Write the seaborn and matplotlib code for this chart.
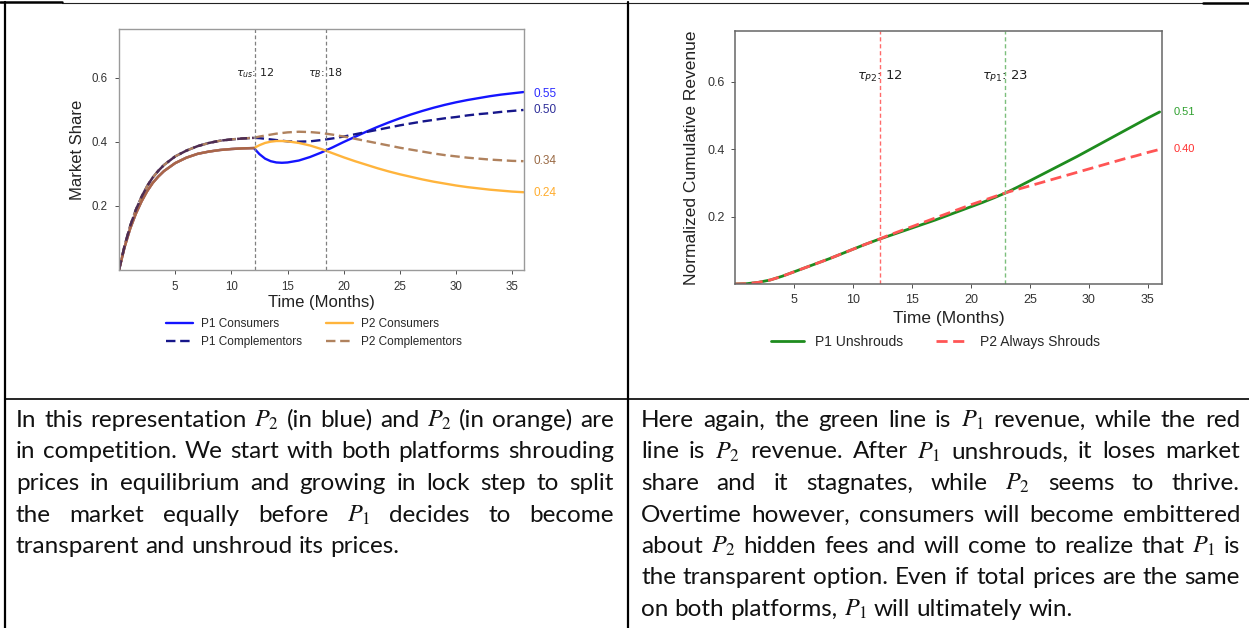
import matplotlib
matplotlib.use("Agg")
import numpy as np
import pandas as pd
import matplotlib.pyplot as plt
import seaborn as sns
from matplotlib.lines import Line2D
from matplotlib.transforms import IdentityTransform

W, H = 1249, 628

# ---------------- left chart: market share ----------------
months_pre = [0, 0.5, 1, 1.5, 2, 2.5, 3, 3.5, 4, 5, 6, 7, 8, 9, 10, 11, 12]
consumers_pre = [0, 0.072, 0.13, 0.176, 0.214, 0.246, 0.272, 0.292, 0.309, 0.334, 0.351, 0.363, 0.370, 0.375, 0.378, 0.380, 0.381]
complementors_pre = [0, 0.076, 0.138, 0.188, 0.228, 0.262, 0.289, 0.310, 0.328, 0.355, 0.373, 0.387, 0.397, 0.404, 0.408, 0.411, 0.413]

months_post = [12.5, 13, 13.5, 14, 14.5, 15, 16, 17, 18, 19, 20, 21, 22, 23, 24,
               25, 26, 27, 28, 29, 30, 31, 32, 33, 34, 35, 36]
p1_consumers_post = [0.362, 0.348, 0.340, 0.336, 0.335, 0.336, 0.342, 0.353, 0.367, 0.383, 0.400, 0.416, 0.432, 0.447,
                     0.461, 0.474, 0.486, 0.497, 0.507, 0.516, 0.524, 0.531, 0.537, 0.543, 0.548, 0.552, 0.556]
p2_consumers_post = [0.390, 0.397, 0.401, 0.403, 0.403, 0.402, 0.397, 0.389, 0.378, 0.365, 0.352, 0.340, 0.329, 0.318,
                     0.308, 0.299, 0.291, 0.283, 0.276, 0.270, 0.264, 0.259, 0.255, 0.251, 0.248, 0.245, 0.243]
p1_complementors_post = [0.412, 0.410, 0.408, 0.406, 0.404, 0.402, 0.401, 0.402, 0.406, 0.411, 0.417, 0.424, 0.431, 0.438,
                         0.445, 0.452, 0.458, 0.464, 0.469, 0.474, 0.478, 0.483, 0.487, 0.490, 0.494, 0.497, 0.500]
p2_complementors_post = [0.417, 0.420, 0.423, 0.426, 0.428, 0.430, 0.432, 0.431, 0.428, 0.423, 0.417, 0.410, 0.403, 0.396,
                         0.389, 0.382, 0.376, 0.370, 0.364, 0.359, 0.355, 0.351, 0.348, 0.345, 0.343, 0.341, 0.340]
left_series = ["P1 Consumers", "P1 Complementors", "P2 Consumers", "P2 Complementors"]
left_final_labels = [0.55, 0.50, 0.24, 0.34]
left_taus = [12.1, 18.4]
left_tau_labels = [r"$\tau_{us}$: 12", r"$\tau_{B}$: 18"]

# ---------------- right chart: cumulative revenue ----------------
months_r = list(range(0, 37))
p1_unshrouds = [0, 0.001, 0.005, 0.012, 0.023, 0.036, 0.049, 0.062, 0.075, 0.089, 0.103, 0.117, 0.130,
                0.142, 0.154, 0.166, 0.178, 0.190, 0.203, 0.216, 0.229, 0.242, 0.256, 0.271, 0.288,
                0.306, 0.324, 0.342, 0.360, 0.378, 0.397, 0.416, 0.435, 0.454, 0.473, 0.492, 0.510]
p2_always_shrouds = [0, 0.001, 0.005, 0.012, 0.023, 0.036, 0.049, 0.062, 0.075, 0.089, 0.103, 0.117, 0.130,
                     0.144, 0.157, 0.170, 0.183, 0.196, 0.209, 0.222, 0.235, 0.247, 0.259, 0.271, 0.281,
                     0.291, 0.301, 0.311, 0.321, 0.331, 0.341, 0.351, 0.361, 0.371, 0.380, 0.390, 0.399]
right_series = ["P1 Unshrouds", "P2 Always Shrouds"]
right_final_labels = [0.51, 0.40]
right_taus = [12.3, 22.9]
right_tau_labels = [r"$\tau_{P2}$: 12", r"$\tau_{P1}$: 23"]

xticks = [5, 10, 15, 20, 25, 30, 35]
yticks = [0.2, 0.4, 0.6]

left_text = [
    "In this representation $P_2$ (in blue) and $P_2$ (in orange) are",
    "in competition. We start with both platforms shrouding",
    "prices in equilibrium and growing in lock step to split",
    "the market equally before $P_1$ decides to become",
    "transparent and unshroud its prices.",
]
right_text = [
    "Here again, the green line is $P_1$ revenue, while the red",
    "line is $P_2$ revenue. After $P_1$ unshrouds, it loses market",
    "share and it stagnates, while $P_2$ seems to thrive.",
    "Overtime however, consumers will become embittered",
    "about $P_2$ hidden fees and will come to realize that $P_1$ is",
    "the transparent option. Even if total prices are the same",
    "on both platforms, $P_1$ will ultimately win.",
]

# ---------------- style ----------------
sns.set_theme(style="white")
plt.rcParams["font.family"] = ["Liberation Sans", "DejaVu Sans"]
plt.rcParams["mathtext.fontset"] = "dejavusans"

fig = plt.figure(figsize=(W / 100, H / 100), dpi=100)
fig.patch.set_facecolor("white")


def px_axes(l, t, r, b):
    return fig.add_axes([l / W, 1 - b / H, (r - l) / W, (b - t) / H])


# ================= LEFT CHART =================
ax1 = px_axes(119, 29, 523.5, 270)
c_p1, c_p1c, c_p2, c_p2c = "#1414ff", "#16168a", "#ffb43c", "#b0825e"
full_t = months_pre + months_post
p1c_full = consumers_pre + p1_consumers_post
p2c_full = consumers_pre + p2_consumers_post
p1k_full = complementors_pre + p1_complementors_post
p2k_full = complementors_pre + p2_complementors_post

df_left = pd.DataFrame({
    "month": full_t * 4,
    "share": p1c_full + p1k_full + p2c_full + p2k_full,
    "series": sum([[s] * len(full_t) for s in left_series], []),
})
styles_left = {
    "P1 Consumers": (c_p1, "-"),
    "P1 Complementors": (c_p1c, (0, (4, 2))),
    "P2 Consumers": (c_p2, "-"),
    "P2 Complementors": (c_p2c, (0, (4, 2))),
}
for s in ["P1 Consumers", "P1 Complementors", "P2 Consumers", "P2 Complementors"]:
    col, ls = styles_left[s]
    sub = df_left[df_left.series == s]
    sns.lineplot(data=sub, x="month", y="share", ax=ax1, color=col, linestyle=ls,
                 linewidth=1.7, label=s, legend=False)
# shared pre-shock segments (both platforms overlap)
sns.lineplot(x=months_pre, y=consumers_pre, ax=ax1, color="#a8654a", linewidth=1.8, legend=False)
sns.lineplot(x=months_pre, y=complementors_pre, ax=ax1, color="#4e2c52", linewidth=1.8,
             linestyle=(0, (4, 2)), legend=False)

for tx, tl in zip(left_taus, left_tau_labels):
    ax1.axvline(tx, color="#808080", linestyle=(0, (3, 2)), linewidth=0.9)
    ax1.text(tx, 0.615, tl, ha="center", va="center", fontsize=8, color="#222222",
             family="DejaVu Sans")

lab_cols = ["#2b2bff", "#2e2e99", "#ffad2e", "#9a6a45"]
for v, col in zip(left_final_labels, lab_cols):
    ax1.annotate(f"{v:.2f}", xy=(36, v), xytext=(7.5, 0), textcoords="offset points",
                 va="center", ha="left", fontsize=8.5, color=col)

ax1.set_xlim(0, 36)
ax1.set_ylim(0, 0.753)
ax1.set_xticks(xticks)
ax1.set_yticks(yticks)
ax1.set_xticklabels([str(x) for x in xticks])
ax1.set_yticklabels([f"{y:.1f}" for y in yticks])
ax1.tick_params(axis="both", labelsize=8.3, colors="#333333", length=3, width=0.6,
                direction="out", pad=5, left=True, bottom=True)
for sp in ax1.spines.values():
    sp.set_color("#9a9a9a")
    sp.set_linewidth(1.0)
ax1.set_xlabel("Time (Months)", fontsize=12, color="#222222")
ax1.set_ylabel("Market Share", fontsize=12, color="#222222")
ax1.xaxis.set_label_coords(0.5, -0.105)
ax1.yaxis.set_label_coords(-0.085, 0.5)

h, l = ax1.get_legend_handles_labels()
order = [l.index(s) for s in left_series]
ax1.legend([h[i] for i in order], [l[i] for i in order], ncol=2, frameon=False,
           loc="upper left", bbox_to_anchor=(166 / W, 1 - 318 / H), bbox_transform=fig.transFigure,
           fontsize=8.5, handlelength=2.3, handletextpad=0.7, columnspacing=2.0,
           labelspacing=0.5, borderpad=0, borderaxespad=0)

# ================= RIGHT CHART =================
ax2 = px_axes(735, 31, 1162, 284)
df_right = pd.DataFrame({
    "month": months_r * 2,
    "revenue": p1_unshrouds + p2_always_shrouds,
    "series": sum([[s] * len(months_r) for s in right_series], []),
})
sns.lineplot(data=df_right[df_right.series == right_series[0]], x="month", y="revenue", ax=ax2,
             color="#1e8c1e", linewidth=2.0, label=right_series[0], legend=False)
sns.lineplot(data=df_right[df_right.series == right_series[1]], x="month", y="revenue", ax=ax2,
             color="#ff5555", linewidth=2.0, linestyle=(0, (4, 2)), label=right_series[1], legend=False)

for tx, tl, col in zip(right_taus, right_tau_labels, ["#ff6a6a", "#7cbf7c"]):
    ax2.axvline(tx, color=col, linestyle=(0, (3, 2)), linewidth=1.0)
    ax2.text(tx, 0.615, tl, ha="center", va="center", fontsize=9.5, color="#222222",
             family="DejaVu Sans")

for v, col in zip(right_final_labels, ["#2ea02e", "#ff3030"]):
    ax2.annotate(f"{v:.2f}", xy=(36, v), xytext=(10, 0), textcoords="offset points",
                 va="center", ha="left", fontsize=8, color=col)

ax2.set_xlim(0, 36.2)
ax2.set_ylim(0, 0.75)
ax2.set_xticks(xticks)
ax2.set_yticks(yticks)
ax2.set_xticklabels([str(x) for x in xticks])
ax2.set_yticklabels([f"{y:.1f}" for y in yticks])
ax2.tick_params(axis="both", labelsize=9, colors="#333333", length=3, width=0.6,
                direction="out", pad=4, left=True, bottom=True)
for sp in ax2.spines.values():
    sp.set_color("#666666")
    sp.set_linewidth(1.1)
ax2.set_xlabel("Time (Months)", fontsize=12.5, color="#222222")
ax2.set_ylabel("Normalized Cumulative Revenue", fontsize=12.5, color="#222222")
ax2.xaxis.set_label_coords(0.5, -0.105)
ax2.yaxis.set_label_coords(-0.085, 0.5)
ax2.legend(ncol=2, frameon=False, loc="upper left", bbox_to_anchor=(771 / W, 1 - 335 / H),
           bbox_transform=fig.transFigure, fontsize=10, handlelength=2.4, handletextpad=0.8,
           columnspacing=2.3, borderpad=0, borderaxespad=0)

# ================= TABLE LINES =================
def hline(y, x0, x1, lw, color="black"):
    fig.add_artist(Line2D([x0 / W, x1 / W], [1 - y / H, 1 - y / H], color=color, linewidth=lw,
                          transform=fig.transFigure))


def vline(x, y0, y1, lw, color="black"):
    fig.add_artist(Line2D([x / W, x / W], [1 - y0 / H, 1 - y1 / H], color=color, linewidth=lw,
                          transform=fig.transFigure))


hline(2.5, 62, 1203, 0.8, "#222222")
hline(2, 0, 62, 1.8)
hline(2.5, 1203, W, 1.8)
vline(5, 1.5, H, 1.6)
vline(628, 1.5, H, 1.6)
hline(399, 5, W, 1.2)

# ================= JUSTIFIED TEXT =================
BODY_FONT = ["Lato", "DejaVu Sans"]
renderer = fig.canvas.get_renderer()


def make_word(s, size):
    return fig.text(0, 0, s, transform=IdentityTransform(), fontsize=size, family=BODY_FONT,
                    math_fontfamily="stix", va="baseline", ha="left", color="#111111")


def measure(s, size):
    t = make_word(s, size)
    w = t.get_window_extent(renderer).width
    t.remove()
    return w


def natural_width(line, size):
    words = line.split(" ")
    sp = measure("a a", size) - measure("aa", size)
    return sum(measure(w, size) for w in words) + sp * (len(words) - 1)


def draw_justified(lines, x0, x1, y_first, pitch, size):
    sp = measure("a a", size) - measure("aa", size)
    for i, line in enumerate(lines):
        words = line.split(" ")
        y = H - (y_first + i * pitch)
        arts = [make_word(w, size) for w in words]
        widths = [a.get_window_extent(renderer).width for a in arts]
        if i == len(lines) - 1:
            gap = sp
        else:
            gap = (x1 - x0 - sum(widths)) / (len(words) - 1)
        x = x0
        for a, w in zip(arts, widths):
            a.set_position((x, y))
            x += w + gap


test = 14.0
ratios = []
for line in left_text[:-1]:
    ratios.append((614 - 16) / natural_width(line, test))
for line in right_text[:-1]:
    ratios.append((1240 - 641) / natural_width(line, test))
body_size = min(19, test * min(ratios) * 0.99)

draw_justified(left_text, 16, 614, 427, 31.5, body_size)
draw_justified(right_text, 641, 1240, 427, 31.5, body_size)

fig.savefig("out.png", dpi=100, facecolor="white")
